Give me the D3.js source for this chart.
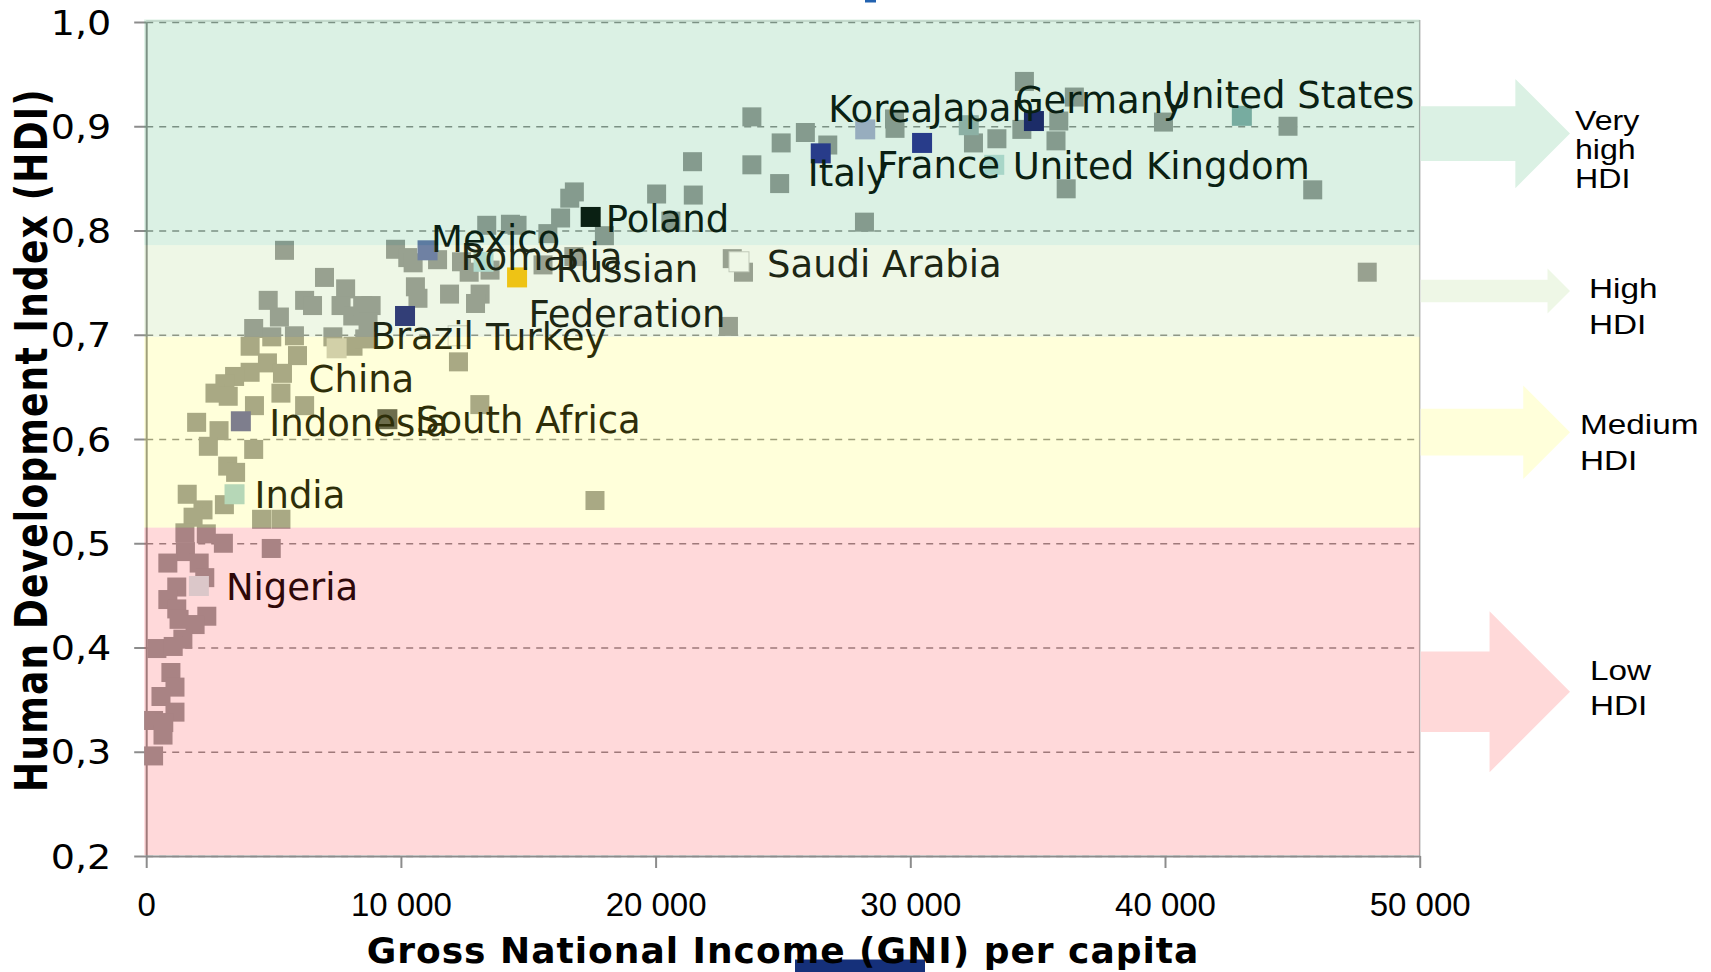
<!DOCTYPE html>
<html><head><meta charset="utf-8">
<script src="https://cdn.jsdelivr.net/npm/d3@7"></script>
<style>html,body{margin:0;padding:0;background:#fff;} svg{display:block}</style>
</head><body>
<svg id="chart" width="1711" height="972"></svg>
<script>
// ---------------- DATA ----------------
const xTicks = [0, 10000, 20000, 30000, 40000, 50000];
const yTicks = [0.2, 0.3, 0.4, 0.5, 0.6, 0.7, 0.8, 0.9, 1.0];

const bandNames  = ["Very high HDI", "High HDI", "Medium HDI", "Low HDI"];
const bandLines  = [["Very", "high", "HDI"], ["High", "HDI"], ["Medium", "HDI"], ["Low", "HDI"]];
const bandTop    = [1.0, 0.786, 0.698, 0.515];
const bandBottom = [0.786, 0.698, 0.515, 0.2];

// unlabelled countries
const otherGNI = [23780,23780,24930,24870,25880,26760,28200,29380,29400,32480,33400,34480,34380,35830,35720,36440,36120,39940,44830,45800,47940,
  20040,21480,21450,20600,17990,16810,16630,16270,15770,14300,14560,13370,16790,15580,13500,12380,12680,11910,13110,12930,23010,23450,22860,12260,13100,17620,
  5430,7000,4790,5230,6220,6530,7830,7650,8110,8500,8830,8710,9790,10270,10480,11440,10570,10670,4220,4080,4930,5820,5940,4760,5350,4080,3470,3090,2700,3220,5290,4250,6220,7330,8120,8580,1980,2860,2440,4220,3200,3510,1610,3070,2230,1840,4530,5290,
  4910,1520,2360,3030,1540,850,2080,2300,1200,850,1200,1290,2380,1920,1440,420,1060,970,1130,580,1130,290,690,660,290];
const otherHDI = [0.909,0.863,0.884,0.845,0.894,0.882,0.808,0.907,0.898,0.884,0.888,0.943,0.897,0.905,0.886,0.928,0.840,0.904,0.900,0.839,0.760,
  0.835,0.834,0.866,0.809,0.795,0.837,0.831,0.812,0.797,0.806,0.805,0.805,0.775,0.767,0.762,0.770,0.760,0.739,0.739,0.730,0.773,0.760,0.708,0.674,0.633,0.541,
  0.781,0.755,0.733,0.717,0.733,0.728,0.744,0.728,0.718,0.728,0.728,0.712,0.782,0.774,0.769,0.772,0.746,0.735,0.706,0.689,0.698,0.699,0.680,0.673,0.663,0.664,0.660,0.653,0.644,0.641,0.644,0.632,0.632,0.698,0.689,0.696,0.616,0.608,0.593,0.590,0.574,0.568,0.547,0.537,0.532,0.525,0.523,0.523,
  0.495,0.510,0.509,0.500,0.492,0.481,0.481,0.467,0.458,0.446,0.437,0.427,0.430,0.422,0.408,0.399,0.401,0.376,0.362,0.353,0.338,0.330,0.328,0.316,0.296];

// labelled countries
const labelNames = ["Mexico","Romania","Russian Federation","Poland","Saudi Arabia","Korea","Japan","Germany","United States","Italy","France","United Kingdom","Brazil","Turkey","China","Indonesia","South Africa","India","Nigeria"];
const labelGNI   = [11046,13245,14561,17451,23274,28230,32295,34854,43017,26484,30462,33296,10162,12246,7476,3716,9469,3468,2069];
const labelHDI   = [0.781,0.770,0.755,0.813,0.770,0.897,0.901,0.905,0.910,0.874,0.884,0.863,0.718,0.699,0.687,0.617,0.619,0.547,0.459];

// ---------------- STYLE / LAYOUT ----------------
const W = 1711, H = 972;
const plot = {left: 146.2, right: 1419.7, top: 22, bottom: 856};
const markerColor = {
  "Mexico":"#6470AE","Romania":"#B4DCE0","Russian Federation":"#FFC000","Poland":"#000000",
  "Saudi Arabia":"#FFFFFF","Korea":"#ADADD1","Japan":"#9FB0B1","Germany":"#160F68",
  "United States":"#86ABAC","Italy":"#252392","France":"#252392","United Kingdom":"#C1DEDD",
  "Brazil":"#1A1E78","Turkey":"#FFFFFF","China":"#C8C6C2","Indonesia":"#6262A2",
  "South Africa":"#4E4E52","India":"#A6CFD5","Nigeria":"#D4EAEB"
};
// label text offset (start x, baseline) from the marker centre
const labelOffset = {
  "Mexico":[3.5,1.7],"Romania":[-23,8.2],"Russian Federation":[110,4.6],"Poland":[15,14.8],
  "Saudi Arabia":[28,15],"Korea":[-37,-7.7],"Japan":[-37,-4],"Germany":[-19,-8],
  "United States":[-78,-7.6],"Italy":[-13,33],"France":[-45,35],"United Kingdom":[18.5,14],
  "Brazil":[-34.5,33.4],"Turkey":[28,14.7],"China":[-28,43.4],"Indonesia":[28.5,14.7],
  "South Africa":[28.6,14],"India":[20,14],"Nigeria":[27,14]
};
const bandVisible = ["#DBF1E4", "#EEF7E6", "#FFFFDA", "#FFD9D9"];   // colour seen on white
const bandOverlay = ["rgb(55,177,105)", "rgb(161,211,116)", "rgb(255,255,49)", "rgb(255,44,49)"];
const overlayAlpha = 0.18;
const arrowTipX = 1570;
const bandTextX = [1575, 1589, 1580, 1590];
const bandTextDy = [-4, 7, 1.3, -11.7];
const bandTextLH = [29, 36, 36, 35];
const bandTextSize = [27, 28, 28, 28];

const svg = d3.select("#chart");
const x = d3.scaleLinear().domain([0, 50000]).range([plot.left, plot.right]);
const y = d3.scaleLinear().domain([0.2, 1.0]).range([plot.bottom, plot.top]);

// decorative slide remnants
svg.append("rect").attr("x", 865).attr("y", 0).attr("width", 11).attr("height", 2.5).attr("fill", "#2262B0");
svg.append("rect").attr("x", 795).attr("y", 959.5).attr("width", 130).attr("height", 13).attr("fill", "#15307A");

// gridlines
svg.append("g").attr("transform", `translate(${plot.left},0)`)
  .call(d3.axisLeft(y).tickValues(yTicks).tickSize(-(plot.right - plot.left)).tickFormat(""))
  .call(g => g.select(".domain").remove())
  .call(g => g.selectAll("line").attr("stroke", "#8A8A8A").attr("stroke-width", 1.6).attr("stroke-dasharray", "7,6"));

// top / right frame
svg.append("line").attr("x1", plot.left).attr("x2", plot.right).attr("y1", plot.top - 1).attr("y2", plot.top - 1)
  .attr("stroke", "#C8C8C8").attr("stroke-width", 1);
svg.append("line").attr("x1", plot.right).attr("x2", plot.right).attr("y1", plot.top - 2).attr("y2", plot.bottom)
  .attr("stroke", "#B4B4B4").attr("stroke-width", 1.5);

// y axis (line + ticks + labels)
const fmtY = d => d3.format(".1f")(d).replace(".", ",");
const yAx = svg.append("g").attr("transform", `translate(${plot.left},0)`)
  .call(d3.axisLeft(y).tickValues(yTicks).tickSize(12).tickSizeOuter(0).tickPadding(23).tickFormat(fmtY));
yAx.select(".domain").attr("stroke", "#8C8C8C").attr("stroke-width", 2);
yAx.selectAll(".tick line").attr("stroke", "#8C8C8C").attr("stroke-width", 2);
yAx.selectAll(".tick text").attr("font-family", "DejaVu Sans").attr("font-size", 34).attr("fill", "#000")
  .attr("transform", "scale(1.12,1)").attr("x", -35 / 1.12).attr("dy", "0.36em");

// markers: other countries
const others = otherGNI.map((g, i) => ({gni: g, hdi: otherHDI[i]}));
const S = 19;
svg.append("g").selectAll("rect").data(others).join("rect")
  .attr("x", d => x(d.gni) - S / 2).attr("y", d => y(d.hdi) - S / 2)
  .attr("width", S).attr("height", S).attr("fill", "#969696");

// labelled countries
const labelled = labelNames.map((n, i) => ({name: n, gni: labelGNI[i], hdi: labelHDI[i]}));
const S2 = 20;
svg.append("g").selectAll("rect").data(labelled).join("rect")
  .attr("x", d => x(d.gni) - S2 / 2).attr("y", d => y(d.hdi) - S2 / 2)
  .attr("width", S2).attr("height", S2).attr("fill", d => markerColor[d.name])
  .attr("stroke", d => markerColor[d.name] === "#FFFFFF" ? "#C8C8C8" : "none").attr("stroke-width", 1);

const lab = svg.append("g").attr("font-family", "DejaVu Sans").attr("font-size", 37).attr("fill", "#000");
labelled.forEach(d => {
  const [dx, dy] = labelOffset[d.name];
  const px = x(d.gni) + dx, py = y(d.hdi) + dy;
  if (d.name === "Russian Federation") {
    const t = lab.append("text").attr("text-anchor", "middle");
    t.append("tspan").attr("x", px).attr("y", py).text("Russian");
    t.append("tspan").attr("x", px).attr("y", py + 45).text("Federation");
  } else {
    lab.append("text").attr("x", px).attr("y", py).text(d.name);
  }
});

// translucent HDI bands on top of the plot
const bands = bandNames.map((n, i) => ({name: n, top: bandTop[i], bottom: bandBottom[i], i}));
svg.append("g").selectAll("rect").data(bands).join("rect")
  .attr("x", plot.left - 2)
  .attr("y", d => d.i === 0 ? y(d.top) - 2.5 : y(d.top))
  .attr("width", plot.right - plot.left + 2)
  .attr("height", d => (d.i === 3 ? y(d.bottom) - 1 : y(d.bottom)) - (d.i === 0 ? y(d.top) - 2.5 : y(d.top)))
  .attr("fill", d => bandOverlay[d.i]).attr("fill-opacity", overlayAlpha);

// arrows to band names
svg.append("g").selectAll("path").data(bands).join("path")
  .attr("d", d => {
    const y0 = y(d.top), y1 = y(d.bottom), cy = (y0 + y1) / 2, h = y1 - y0;
    const hh = 0.245 * h, sh = 0.1225 * h, bx = arrowTipX - hh, sx = plot.right + 1;
    return `M${sx},${cy - sh}L${bx},${cy - sh}L${bx},${cy - hh}L${arrowTipX},${cy}L${bx},${cy + hh}L${bx},${cy + sh}L${sx},${cy + sh}Z`;
  })
  .attr("fill", d => bandVisible[d.i]);

const bt = svg.append("g").attr("font-family", "Liberation Sans, Arial, sans-serif").attr("fill", "#000");
bands.forEach(d => {
  const cy = (y(d.top) + y(d.bottom)) / 2;
  const sx = 1.19;
  const t = bt.append("text").attr("font-size", bandTextSize[d.i])
    .attr("transform", `translate(${bandTextX[d.i]},${cy + bandTextDy[d.i]}) scale(${sx},1)`);
  bandLines[d.i].forEach((ln, k) => t.append("tspan").attr("x", 0).attr("y", k * bandTextLH[d.i]).text(ln));
});

// x axis
const loc = d3.formatLocale({decimal: ",", thousands: "\u2009", grouping: [3], currency: ["", ""]});
const fmtX = d => d === 0 ? "0" : loc.format(",")(d).replace("\u2009", " ");
const xAx = svg.append("g").attr("transform", `translate(0,${plot.bottom})`)
  .call(d3.axisBottom(x).tickValues(xTicks).tickSize(12).tickSizeOuter(0).tickPadding(25).tickFormat(fmtX));
xAx.select(".domain").attr("stroke", "#8C8C8C").attr("stroke-width", 2);
xAx.selectAll(".tick line").attr("stroke", "#8C8C8C").attr("stroke-width", 2);
xAx.selectAll(".tick text").attr("font-family", "Liberation Sans, Arial, sans-serif").attr("font-size", 33).attr("fill", "#000");

// axis titles
svg.append("text").attr("x", 783).attr("y", 963).attr("text-anchor", "middle")
  .attr("font-family", "DejaVu Sans").attr("font-weight", "bold").attr("font-size", 36).attr("letter-spacing", 1)
  .attr("fill", "#000").text("Gross National Income (GNI) per capita");
svg.append("text").attr("text-anchor", "middle")
  .attr("transform", "translate(46.5,440) rotate(-90) scale(1,1.22)")
  .attr("font-family", "DejaVu Sans").attr("font-weight", "bold").attr("font-size", 36).attr("letter-spacing", 1.2)
  .attr("fill", "#000").text("Human Development Index (HDI)");
</script>
</body></html>
